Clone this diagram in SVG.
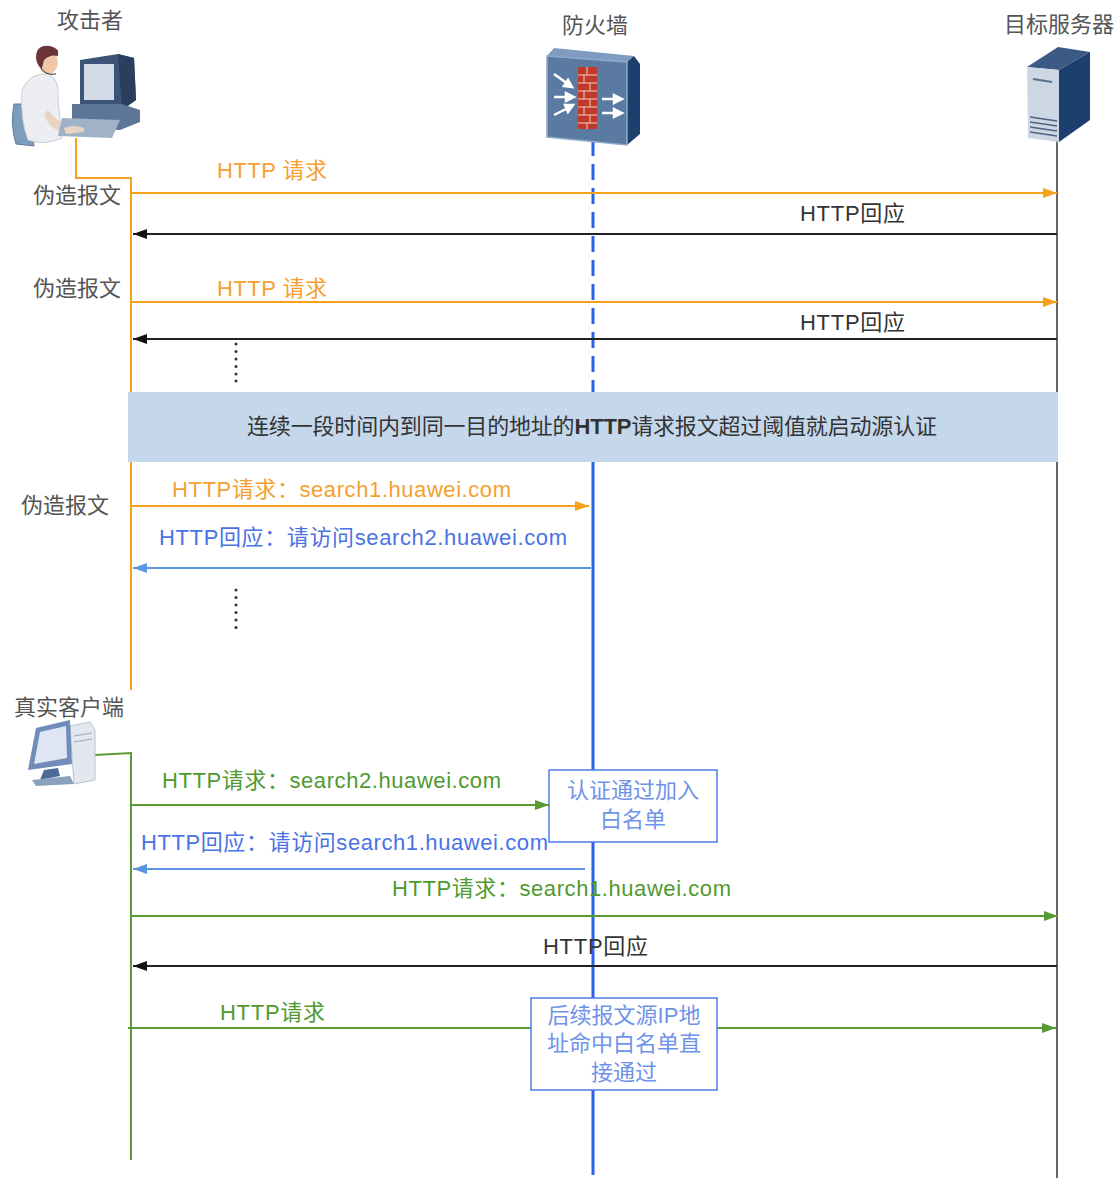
<svg xmlns="http://www.w3.org/2000/svg" width="1118" height="1178" viewBox="0 0 1118 1178">
  <style>
    text { font-family: "Liberation Sans", "Noto Sans CJK SC", sans-serif; font-size: 22px; }
    .name { fill: #555; }
    .orange { fill: #f5a030; }
    .blue { fill: #4b72e4; }
    .lblue { fill: #6f93e8; }
    .green { fill: #4f9a2f; }
    .dark { fill: #333; }
    .mid { text-anchor: middle; }
    .msg { fill: none; stroke-width: 2; }
    .dot { fill: #333; }
  </style>
  <defs>
    <marker id="ah-orange" markerUnits="userSpaceOnUse" markerWidth="16" markerHeight="12" refX="14" refY="5" orient="auto"><path d="M0,0 L14,5 L0,10 z" fill="#f7a11a"/></marker>
    <marker id="ah-black" markerUnits="userSpaceOnUse" markerWidth="16" markerHeight="12" refX="14" refY="5" orient="auto"><path d="M0,0 L14,5 L0,10 z" fill="#111"/></marker>
    <marker id="ah-lblue" markerUnits="userSpaceOnUse" markerWidth="16" markerHeight="12" refX="14" refY="5" orient="auto"><path d="M0,0 L14,5 L0,10 z" fill="#5b95e6"/></marker>
    <marker id="ah-green" markerUnits="userSpaceOnUse" markerWidth="16" markerHeight="12" refX="14" refY="5" orient="auto"><path d="M0,0 L14,5 L0,10 z" fill="#5a9a32"/></marker>
  </defs>

  <rect width="1118" height="1178" fill="#fff"/>

  <!-- lifelines -->
  <g id="lifelines">
    <polyline points="76,138 76,178 131,178 131,690" fill="none" stroke="#f7a11a" stroke-width="2"/>
    <line x1="593" y1="140" x2="593" y2="392" stroke="#2a62ea" stroke-width="3" stroke-dasharray="16 8"/>
    <line x1="593" y1="462" x2="593" y2="1175" stroke="#2a62ea" stroke-width="3"/>
    <line x1="1057" y1="140" x2="1057" y2="1178" stroke="#666" stroke-width="2"/>
    <polyline points="95,755 131,753 131,1160" fill="none" stroke="#5a9a32" stroke-width="2"/>
  </g>

  <!-- attacker -->
  <g id="attacker">
    <text class="name mid" x="90" y="28">攻击者</text>
    <!-- chair -->
    <path d="M14,104 Q10,125 16,144 L34,146 L30,104 z" fill="#7e9dbd" stroke="#5b7a9c" stroke-width="1"/>
    <!-- body -->
    <path d="M22,90 Q30,72 48,74 Q60,78 58,100 L62,138 Q45,146 28,140 Q20,120 22,90 z" fill="#eceef2" stroke="#c9ced6" stroke-width="1"/>
    <!-- arm -->
    <path d="M48,110 Q56,122 68,124 L86,124 L86,130 L62,132 Q48,128 44,114 z" fill="#e9d3c2"/>
    <!-- head -->
    <ellipse cx="48" cy="62" rx="10" ry="12" fill="#f0c8a8"/>
    <path d="M36,58 Q36,44 50,46 Q60,48 58,56 Q50,54 44,60 L42,68 Q37,66 36,58 z" fill="#6b3438"/>
    <path d="M40,66 Q44,76 56,74" fill="none" stroke="#333" stroke-width="1"/>
    <!-- monitor -->
    <path d="M80,60 L118,54 L134,58 L136,100 L122,110 L80,108 z" fill="#3c5477"/>
    <rect x="84" y="64" width="30" height="36" fill="#d5dbe6"/>
    <path d="M118,54 L134,58 L136,100 L122,110 z" fill="#2a3f5e"/>
    <!-- base / keyboard -->
    <path d="M72,104 L122,104 L140,110 L140,122 L120,130 L72,128 z" fill="#5d7697"/>
    <path d="M62,118 L120,120 L112,138 L58,136 z" fill="#9fb2c8"/>
    <path d="M64,128 Q74,124 84,128 L84,132 L66,134 z" fill="#e9d3c2"/>
  </g>

  <!-- firewall -->
  <g id="firewall">
    <text class="name mid" x="595" y="33">防火墙</text>
    <path d="M547,56 L554,48 L634,56 L627,62 z" fill="#7f9cc0"/>
    <path d="M627,62 L634,56 L640,64 L640,134 L627,145 z" fill="#1d3f6e"/>
    <path d="M547,56 L627,62 L627,145 L547,137 z" fill="#5a7aa2" stroke="#8ea9c9" stroke-width="1.5"/>
    <rect x="578" y="67" width="19" height="62" fill="#c0392b"/>
    <g stroke="#f2d0c8" stroke-width="1" fill="none">
      <path d="M578,75 H597 M578,83 H597 M578,91 H597 M578,99 H597 M578,107 H597 M578,115 H597 M578,123 H597"/>
      <path d="M587,67 V75 M584,75 V83 M590,83 V91 M584,91 V99 M590,99 V107 M584,107 V115 M590,115 V123 M587,123 V129"/>
    </g>
    <g fill="#fff" stroke="#fff" stroke-width="2.5">
      <path d="M554,74 L568,84" fill="none"/><path d="M572,87 L564,86 L568,80 z"/>
      <path d="M554,97 L568,97" fill="none"/><path d="M574,97 L566,93 L566,101 z"/>
      <path d="M554,115 L568,108" fill="none"/><path d="M573,105 L565,105 L568,112 z"/>
      <path d="M602,99 L616,99" fill="none"/><path d="M622,99 L614,95 L614,103 z"/>
      <path d="M602,113 L616,113" fill="none"/><path d="M622,113 L614,109 L614,117 z"/>
    </g>
  </g>

  <!-- target server -->
  <g id="server">
    <text class="name mid" x="1059" y="32">目标服务器</text>
    <path d="M1027,67 L1058,47 L1090,52 L1059,70 z" fill="#3b5a85"/>
    <path d="M1059,70 L1090,52 L1090,120 L1059,142 z" fill="#1d3f6e"/>
    <path d="M1027,67 L1059,70 L1059,142 L1028,138 z" fill="#cdd7e4"/>
    <line x1="1033" y1="79" x2="1052" y2="82" stroke="#5a6f8c" stroke-width="2"/>
    <g stroke="#4d6283" stroke-width="1.5">
      <line x1="1030" y1="117" x2="1057" y2="121"/>
      <line x1="1030" y1="122" x2="1057" y2="126"/>
      <line x1="1030" y1="127" x2="1057" y2="131"/>
      <line x1="1030" y1="132" x2="1057" y2="136"/>
    </g>
  </g>

  <!-- real client -->
  <g id="client">
    <text class="name" x="14" y="715">真实客户端</text>
    <path d="M70,726 L90,722 L95,730 L95,780 L74,784 z" fill="#e3e8ef" stroke="#b9c4d2" stroke-width="1"/>
    <line x1="74" y1="736" x2="92" y2="733" stroke="#9aa8bb" stroke-width="1"/>
    <line x1="74" y1="742" x2="92" y2="739" stroke="#9aa8bb" stroke-width="1"/>
    <path d="M36,728 L70,720 L72,764 L28,770 z" fill="#6f8db8"/>
    <path d="M40,732 L66,726 L67,758 L34,764 z" fill="#dde6f2"/>
    <path d="M44,770 L58,768 L60,776 L40,780 z" fill="#4d6a95"/>
    <path d="M32,780 L70,776 L74,784 L36,786 z" fill="#8aa0bf"/>
  </g>

  <!-- threshold band -->
  <g id="threshold">
    <rect x="128" y="392" width="930" height="70" fill="#c5d8eb"/>
    <text class="dark" x="247" y="434" textLength="690">连续一段时间内到同一目的地址的<tspan font-weight="bold">HTTP</tspan>请求报文超过阈值就启动源认证</text>
  </g>

  <!-- whitelist boxes -->
  <g id="auth-box">
    <rect x="549" y="770" width="168" height="72" fill="#fff" stroke="#4d7ce8" stroke-width="1.5"/>
    <text class="lblue mid" x="633" y="798">认证通过加入</text>
    <text class="lblue mid" x="633" y="827">白名单</text>
  </g>

  <!-- labels on the attacker side -->
  <g id="forged-labels">
    <text class="name" x="33" y="203">伪造报文</text>
    <text class="name" x="33" y="296">伪造报文</text>
    <text class="name" x="21" y="513">伪造报文</text>
  </g>

  <!-- messages -->
  <g id="connectors">
    <line class="msg" x1="131" y1="193" x2="1057" y2="193" stroke="#f7a11a" marker-end="url(#ah-orange)"/>
    <line class="msg" x1="1057" y1="234" x2="133" y2="234" stroke="#222" marker-end="url(#ah-black)"/>
    <line class="msg" x1="131" y1="302" x2="1057" y2="302" stroke="#f7a11a" marker-end="url(#ah-orange)"/>
    <line class="msg" x1="1057" y1="339" x2="133" y2="339" stroke="#222" marker-end="url(#ah-black)"/>
    <line class="msg" x1="131" y1="506" x2="589" y2="506" stroke="#f7a11a" marker-end="url(#ah-orange)"/>
    <line class="msg" x1="591" y1="568" x2="133" y2="568" stroke="#5b95e6" marker-end="url(#ah-lblue)"/>
    <line class="msg" x1="131" y1="805" x2="549" y2="805" stroke="#5a9a32" marker-end="url(#ah-green)"/>
    <line class="msg" x1="585" y1="869" x2="133" y2="869" stroke="#5b95e6" marker-end="url(#ah-lblue)"/>
    <line class="msg" x1="131" y1="916" x2="1058" y2="916" stroke="#5a9a32" marker-end="url(#ah-green)"/>
    <line class="msg" x1="1057" y1="966" x2="133" y2="966" stroke="#222" marker-end="url(#ah-black)"/>
    <line class="msg" x1="128" y1="1028" x2="1056" y2="1028" stroke="#5a9a32" marker-end="url(#ah-green)"/>

    <text class="orange" x="217" y="178" textLength="110">HTTP 请求</text>
    <text class="dark" x="800" y="221" textLength="105">HTTP回应</text>
    <text class="orange" x="217" y="296" textLength="110">HTTP 请求</text>
    <text class="dark" x="800" y="330" textLength="105">HTTP回应</text>
    <text class="orange" x="172" y="497" textLength="339">HTTP请求：search1.huawei.com</text>
    <text class="blue" x="159" y="545" textLength="408">HTTP回应：请访问search2.huawei.com</text>
    <text class="green" x="162" y="788" textLength="339">HTTP请求：search2.huawei.com</text>
    <text class="blue" x="141" y="850" textLength="407">HTTP回应：请访问search1.huawei.com</text>
    <text class="green" x="392" y="896" textLength="339">HTTP请求：search1.huawei.com</text>
    <text class="dark" x="543" y="954" textLength="105">HTTP回应</text>
    <text class="green" x="220" y="1020" textLength="105">HTTP请求</text>

    <!-- continuation dots -->
    <g class="dot">
      <circle cx="236" cy="344" r="1.5"/><circle cx="236" cy="351.5" r="1.5"/><circle cx="236" cy="359" r="1.5"/>
      <circle cx="236" cy="366.5" r="1.5"/><circle cx="236" cy="374" r="1.5"/><circle cx="236" cy="381" r="1.5"/>
      <circle cx="236" cy="590" r="1.5"/><circle cx="236" cy="597.5" r="1.5"/><circle cx="236" cy="605" r="1.5"/>
      <circle cx="236" cy="612.5" r="1.5"/><circle cx="236" cy="620" r="1.5"/><circle cx="236" cy="627.5" r="1.5"/>
    </g>
  </g>

  <g id="pass-box">
    <rect x="531" y="998" width="186" height="92" fill="#fff" stroke="#4d7ce8" stroke-width="1.5"/>
    <text class="lblue mid" x="624" y="1023">后续报文源IP地</text>
    <text class="lblue mid" x="624" y="1051">址命中白名单直</text>
    <text class="lblue mid" x="624" y="1080">接通过</text>
  </g>
</svg>
